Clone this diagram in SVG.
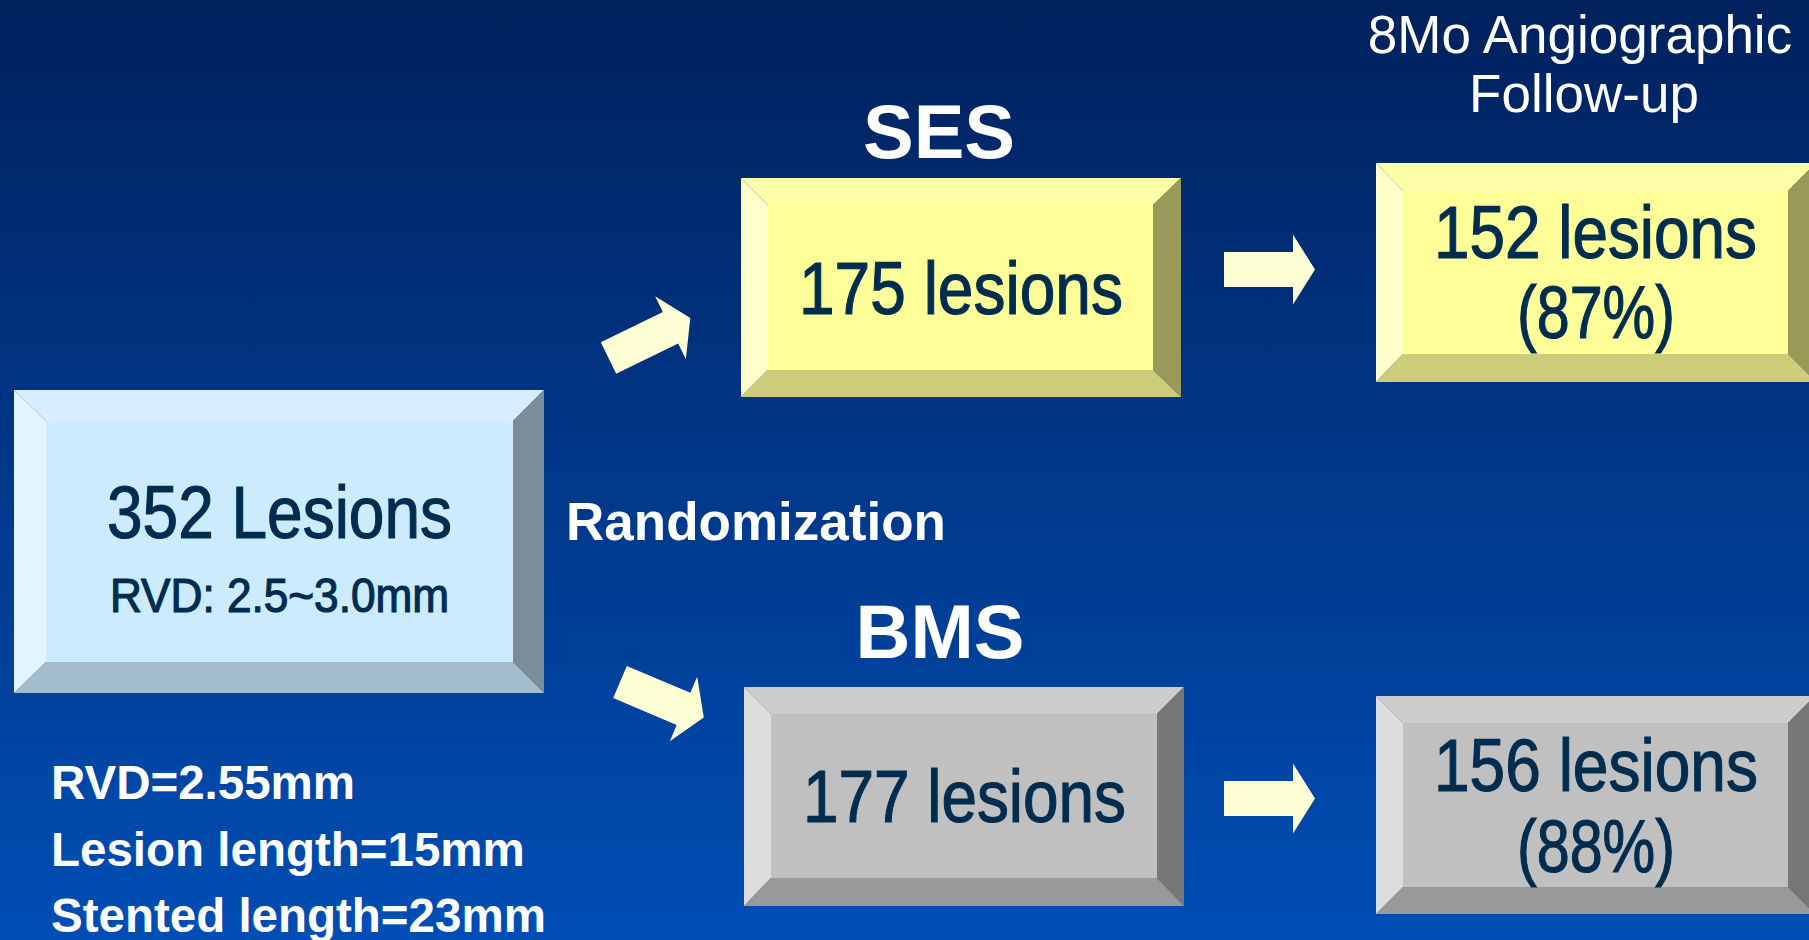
<svg xmlns="http://www.w3.org/2000/svg" width="1809" height="940" viewBox="0 0 1809 940">
<defs>
<linearGradient id="bg" x1="0" y1="0" x2="0" y2="1">
<stop offset="0" stop-color="#00215D"/>
<stop offset="1" stop-color="#004EB5"/>
</linearGradient>
<polygon id="arrow" points="0,-17.5 69,-17.5 69,-35 91,0 69,35 69,17.5 0,17.5"/>
</defs>
<style>
.cond{font-family:"Liberation Sans Narrow","Liberation Sans",Arial,sans-serif;fill:#002D4F;stroke:#002D4F;stroke-width:1.2;text-anchor:middle}
.title{font-family:"Liberation Sans",Arial,sans-serif;font-weight:bold;fill:#FFFFFF}
.plain{font-family:"Liberation Sans",Arial,sans-serif;fill:#FFFFFF}
.arr{fill:#FFFFD6}
.y-top{fill:#FFFFAA}.y-left{fill:#FFFFCC}.y-face{fill:#FFFF99}.y-right{fill:#999958}.y-bot{fill:#CCCC7A}
.g-top{fill:#CCCCCC}.g-left{fill:#DDDDDD}.g-face{fill:#C0C0C0}.g-right{fill:#777777}.g-bot{fill:#999999}
.b-top{fill:#D6EEFF}.b-left{fill:#E0F5FF}.b-face{fill:#CCEBFF}.b-right{fill:#7A8D99}.b-bot{fill:#A4BDCC}
</style>
<rect x="0" y="0" width="1809" height="940" fill="url(#bg)"/>

<g id="node-352">
<polygon class="b-top" points="14,390 544,390 513,421 46,421"/>
<polygon class="b-left" points="14,390 46,421 46,662 14,693"/>
<polygon class="b-right" points="544,390 544,693 513,662 513,421"/>
<polygon class="b-bot" points="14,693 46,662 513,662 544,693"/>
<rect class="b-face" x="46" y="421" width="467" height="241"/>
<text class="cond" x="279.5" y="538" font-size="74" textLength="345" lengthAdjust="spacingAndGlyphs">352 Lesions</text>
<text class="cond" x="279.5" y="612" font-size="48" textLength="339" lengthAdjust="spacingAndGlyphs">RVD: 2.5~3.0mm</text>
</g>

<g id="node-ses">
<polygon class="y-top" points="741,178 1181,178 1153,205 768,205"/>
<polygon class="y-left" points="741,178 768,205 768,370 741,397"/>
<polygon class="y-right" points="1181,178 1181,397 1153,370 1153,205"/>
<polygon class="y-bot" points="741,397 768,370 1153,370 1181,397"/>
<rect class="y-face" x="768" y="205" width="385" height="165"/>
<text class="cond" x="961" y="314" font-size="75" textLength="324" lengthAdjust="spacingAndGlyphs">175 lesions</text>
</g>

<g id="node-ses-fu">
<polygon class="y-top" points="1376,163 1809,163 1809,170 1788,191 1403,191"/>
<polygon class="y-left" points="1376,163 1403,191 1403,354 1376,382"/>
<polygon class="y-right" points="1809,170 1809,375 1788,354 1788,191"/>
<polygon class="y-bot" points="1376,382 1403,354 1788,354 1809,375 1809,382"/>
<rect class="y-face" x="1403" y="191" width="385" height="163"/>
<text class="cond" x="1595.5" y="258" font-size="75" textLength="323" lengthAdjust="spacingAndGlyphs">152 lesions</text>
<text class="cond" x="1596" y="338" font-size="75" textLength="158" lengthAdjust="spacingAndGlyphs">(87%)</text>
</g>

<g id="node-bms">
<polygon class="g-top" points="744,687 1184,687 1157,714 771,714"/>
<polygon class="g-left" points="744,687 771,714 771,878 744,906"/>
<polygon class="g-right" points="1184,687 1184,906 1157,878 1157,714"/>
<polygon class="g-bot" points="744,906 771,878 1157,878 1184,906"/>
<rect class="g-face" x="771" y="714" width="386" height="164"/>
<text class="cond" x="964.5" y="822" font-size="75" textLength="323" lengthAdjust="spacingAndGlyphs">177 lesions</text>
</g>

<g id="node-bms-fu">
<polygon class="g-top" points="1376,696 1809,696 1809,702 1788,723 1403,723"/>
<polygon class="g-left" points="1376,696 1403,723 1403,887 1376,914"/>
<polygon class="g-right" points="1809,702 1809,908 1788,887 1788,723"/>
<polygon class="g-bot" points="1376,914 1403,887 1788,887 1809,908 1809,914"/>
<rect class="g-face" x="1403" y="723" width="385" height="164"/>
<text class="cond" x="1596" y="791" font-size="75" textLength="324" lengthAdjust="spacingAndGlyphs">156 lesions</text>
<text class="cond" x="1596" y="872" font-size="75" textLength="158" lengthAdjust="spacingAndGlyphs">(88%)</text>
</g>

<g id="connectors">
<use href="#arrow" class="arr" transform="translate(608.5,358) rotate(-26)"/>
<use href="#arrow" class="arr" transform="translate(620,682) rotate(23)"/>
<use href="#arrow" class="arr" transform="translate(1224,269.5)"/>
<use href="#arrow" class="arr" transform="translate(1224,798.5)"/>
</g>

<g id="labels">
<text class="title" x="939" y="158" font-size="76" text-anchor="middle">SES</text>
<text class="title" x="940" y="658" font-size="76" text-anchor="middle">BMS</text>
<text class="title" x="566" y="540" font-size="54" textLength="380" lengthAdjust="spacingAndGlyphs">Randomization</text>
<text class="plain" x="1580" y="53" font-size="53" text-anchor="middle">8Mo Angiographic</text>
<text class="plain" x="1584" y="112" font-size="53" text-anchor="middle">Follow-up</text>
<text class="title" x="51" y="799" font-size="47.5">RVD=2.55mm</text>
<text class="title" x="51" y="866" font-size="47.5">Lesion length=15mm</text>
<text class="title" x="51" y="932" font-size="47.5">Stented length=23mm</text>
</g>
</svg>
